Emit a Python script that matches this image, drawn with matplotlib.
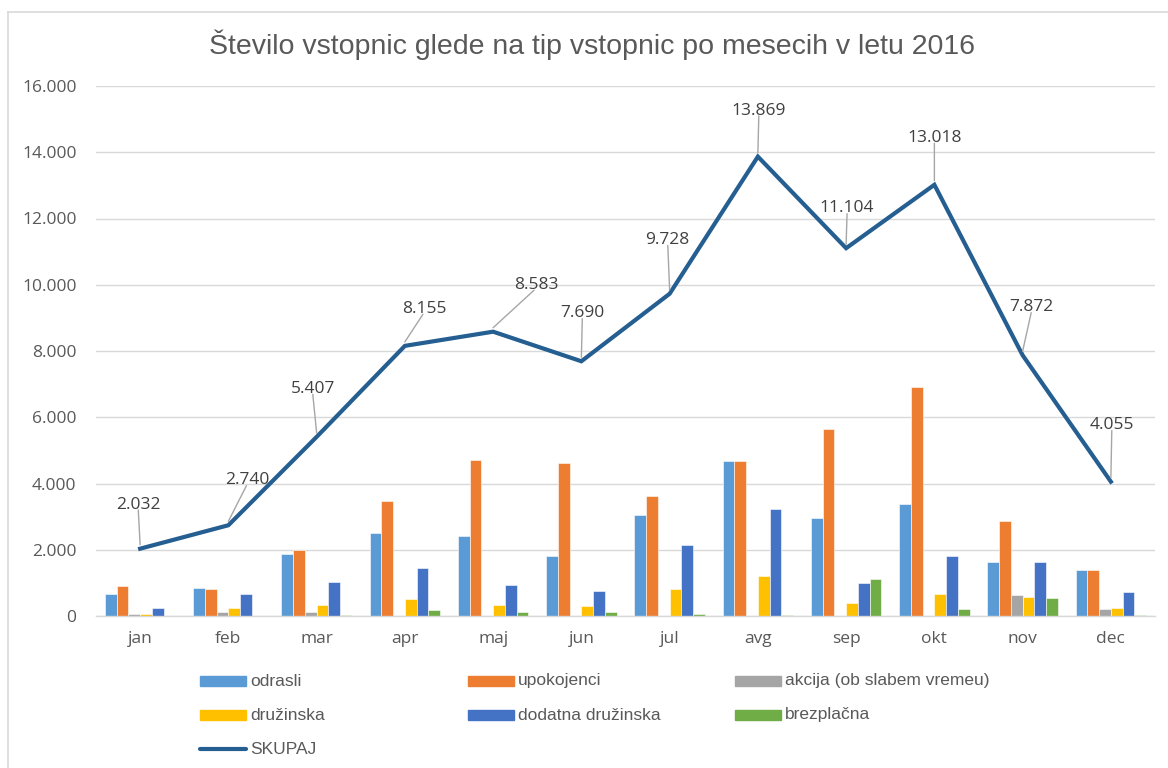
import matplotlib
matplotlib.use("Agg")
import matplotlib.pyplot as plt
from matplotlib.patches import Rectangle
from matplotlib.lines import Line2D
from matplotlib.ticker import FuncFormatter
import numpy as np

months = ["jan", "feb", "mar", "apr", "maj", "jun", "jul", "avg", "sep", "okt", "nov", "dec"]
series_names = ["odrasli", "upokojenci", "akcija (ob slabem vremeu)", "družinska",
                "dodatna družinska", "brezplačna"]
odrasli = [665, 845, 1860, 2500, 2415, 1810, 3050, 4670, 2960, 3380, 1630, 1400]
upokojenci = [905, 805, 1990, 3470, 4710, 4610, 3610, 4670, 5640, 6920, 2870, 1400]
akcija = [60, 120, 120, 0, 0, 0, 0, 0, 0, 0, 625, 200]
druzinska = [50, 250, 340, 520, 340, 300, 805, 1210, 390, 665, 575, 250]
dodatna = [250, 665, 1025, 1450, 935, 755, 2135, 3240, 985, 1810, 1630, 725]
brezplacna = [10, 15, 20, 170, 120, 120, 70, 20, 1130, 210, 535, 40]
skupaj = [2032, 2740, 5407, 8155, 8583, 7690, 9728, 13869, 11104, 13018, 7872, 4055]

colors = ["#5B9BD5", "#ED7D31", "#A5A5A5", "#FFC000", "#4472C4", "#70AD47"]
line_color = "#255E91"
text_color = "#595959"
# label offsets (points) relative to line points
label_dx = [-1.4, 13.7, -2.9, 13.7, 31, 0.7, -1.4, 0.7, 0.7, 0, 6.5, 0.7]
label_dy = [26, 26.6, 28.8, 20.9, 28, 28.8, 33, 27.4, 23, 28, 28.8, 35]

fig = plt.figure(figsize=(11.68, 7.68), dpi=100)
ax = fig.add_axes([96/1168, 1-616/768, (1155-96)/1168, (616-86)/768])

x = np.arange(len(months))
bw = 0.133
data = [odrasli, upokojenci, akcija, druzinska, dodatna, brezplacna]
for i, (vals, c) in enumerate(zip(data, colors)):
    ax.bar(x + (i - 2.5) * bw, vals, width=bw, color=c, edgecolor="white",
           linewidth=0.4, zorder=2)

ax.plot(x, skupaj, color=line_color, linewidth=3.0, zorder=3, solid_joinstyle="miter")

for xi, v, dx, dy in zip(x, skupaj, label_dx, label_dy):
    lbl = f"{v:,}".replace(",", ".")
    ax.annotate(lbl, xy=(xi, v), xytext=(dx, dy), textcoords="offset points",
                ha="center", va="bottom", fontsize=12.5, color="#404040",
                family=["Open Sans", "DejaVu Sans"], zorder=4)
    ax.annotate("", xy=(xi, v + 120), xytext=(dx * 0.95, dy - 1), textcoords="offset points",
                xycoords="data",
                arrowprops=dict(arrowstyle="-", color="#A6A6A6", lw=1.0,
                                shrinkA=0, shrinkB=0), zorder=4)

ax.set_xlim(-0.5, len(months) - 0.5)
ax.set_ylim(0, 16000)
ax.set_yticks(np.arange(0, 16001, 2000))
ax.yaxis.set_major_formatter(FuncFormatter(lambda v, p: f"{int(v):,}".replace(",", ".")))
ax.set_xticks(x)
ax.set_xticklabels(months)
ax.tick_params(axis="both", length=0, colors=text_color, labelsize=12.5)
ax.tick_params(axis="y", pad=14)
ax.tick_params(axis="x", pad=11)
for lab in ax.get_xticklabels() + ax.get_yticklabels():
    lab.set_family(["Open Sans", "DejaVu Sans"])
ax.grid(axis="y", color="#D9D9D9", linewidth=1.0, zorder=0)
ax.set_axisbelow(True)
for s in ["top", "right", "left"]:
    ax.spines[s].set_visible(False)
ax.spines["bottom"].set_color("#D9D9D9")
ax.spines["bottom"].set_linewidth(1.0)

fig.text(592/1168, 1-45/768, "Število vstopnic glede na tip vstopnic po mesecih v letu 2016",
         ha="center", va="center", fontsize=20.5, color=text_color,
         family=["Liberation Sans", "DejaVu Sans"])

# legend
leg_cols = [200, 468, 735]
leg_rows = [681, 715, 749]
entries = list(zip(series_names, colors))
for k, (name, c) in enumerate(entries):
    r, col = divmod(k, 3)
    px, py = leg_cols[col], leg_rows[r]
    fig.patches.append(Rectangle((px/1168, 1-(py+5)/768), 46/1168, 10/768,
                                 transform=fig.transFigure, color=c))
    fig.text((px+50)/1168, 1-py/768, name, ha="left", va="center", fontsize=12.5,
             color=text_color, family=["Liberation Sans", "DejaVu Sans"])
py = leg_rows[2]
fig.lines.append(Line2D([leg_cols[0]/1168, (leg_cols[0]+46)/1168], [1-py/768, 1-py/768],
                        transform=fig.transFigure, color=line_color, linewidth=3,
                        solid_capstyle="round"))
fig.text((leg_cols[0]+50)/1168, 1-py/768, "SKUPAJ", ha="left", va="center", fontsize=12.5,
         color=text_color, family=["Liberation Sans", "DejaVu Sans"])

# chart border
fig.lines.append(Line2D([8/1168, 8/1168], [0, 1-12/768], transform=fig.transFigure,
                        color="#D9D9D9", linewidth=1.2))
fig.lines.append(Line2D([8/1168, 1], [1-12/768, 1-12/768], transform=fig.transFigure,
                        color="#D9D9D9", linewidth=1.2))

fig.savefig("out.png", dpi=100)
